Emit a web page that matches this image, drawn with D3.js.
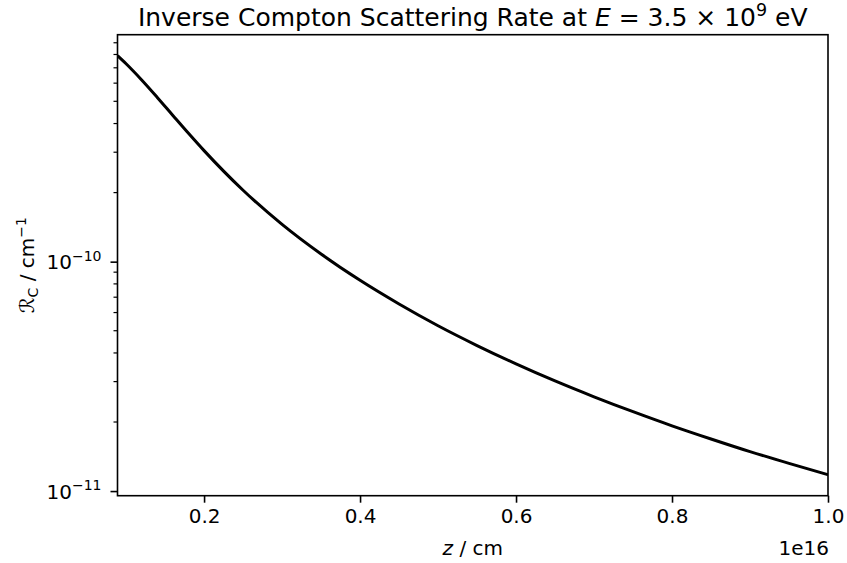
<!DOCTYPE html>
<html>
<head>
<meta charset="utf-8">
<script src="https://cdn.jsdelivr.net/npm/d3@7/dist/d3.min.js"></script>
<style>
  body { margin: 0; background: #fff; }
  svg { font-family: "DejaVu Sans", sans-serif; }
</style>
</head>
<body>
<svg id="chart" width="847" height="563"></svg>
<script>
// distance z in units of 1e16 cm
var zValues = [0.089, 0.1, 0.12, 0.14, 0.16, 0.18, 0.2, 0.25, 0.3, 0.35, 0.4, 0.45, 0.5,
               0.55, 0.6, 0.65, 0.7, 0.75, 0.8, 0.85, 0.9, 0.95, 1.0]
// inverse Compton rate, cm^-1
var rateValues = [7.907e-10, 7.286e-10, 6.194e-10, 5.200e-10, 4.340e-10, 3.627e-10, 3.048e-10,
                  2.048e-10, 1.454e-10, 1.080e-10, 8.289e-11, 6.537e-11, 5.255e-11, 4.309e-11,
                  3.585e-11, 3.020e-11, 2.576e-11, 2.218e-11, 1.925e-11, 1.687e-11, 1.486e-11,
                  1.320e-11, 1.178e-11]
var xTicks = [0.2, 0.4, 0.6, 0.8, 1.0]
var yMajorTicks = [1e-11, 1e-10]
var yMajorExp = [-11, -10]

var margin = {left: 117.5, right: 19, top: 34.7, bottom: 67.3}
var width = 847, height = 563

var svg = d3.select("#chart")

var x = d3.scaleLinear()
  .domain([zValues[0], zValues[zValues.length - 1]])
  .range([margin.left, width - margin.right])

// matplotlib style 5% margins in log space
var lmin = Math.log10(d3.min(rateValues)), lmax = Math.log10(d3.max(rateValues))
var pad = (lmax - lmin) * 0.05
var y = d3.scaleLog()
  .domain([Math.pow(10, lmin - pad), Math.pow(10, lmax + pad)])
  .range([height - margin.bottom, margin.top])

// minor ticks 2..9 x 10^n
var yMinor = []
for (var e = -12; e <= -9; e++) {
  for (var m = 2; m <= 9; m++) {
    var v = m * Math.pow(10, e)
    if (v >= y.domain()[0] && v <= y.domain()[1]) yMinor.push(v)
  }
}

var line = d3.line()
  .x(function(d, i) { return x(zValues[i]) })
  .y(function(d) { return y(d) })
  .curve(d3.curveMonotoneX)

svg.append("defs").append("clipPath").attr("id", "clip")
  .append("rect")
  .attr("x", margin.left).attr("y", margin.top)
  .attr("width", width - margin.left - margin.right)
  .attr("height", height - margin.top - margin.bottom)

svg.append("path")
  .datum(rateValues)
  .attr("clip-path", "url(#clip)")
  .attr("d", line)
  .attr("fill", "none")
  .attr("stroke", "#000")
  .attr("stroke-width", 3)
  .attr("stroke-linejoin", "round")

// x axis
var xAxis = d3.axisBottom(x)
  .tickValues(xTicks)
  .tickFormat(d3.format(".1f"))
  .tickSize(7)
  .tickPadding(6)
var gx = svg.append("g")
  .attr("transform", "translate(0," + (height - margin.bottom) + ")")
  .call(xAxis)
gx.select(".domain").remove()
gx.selectAll("text").attr("font-size", 20).attr("fill", "#000")
  .attr("font-family", "DejaVu Sans")
gx.selectAll("line").attr("stroke", "#000").attr("stroke-width", 1.6)

// y axis major
var yAxis = d3.axisLeft(y)
  .tickValues(yMajorTicks)
  .tickFormat("")
  .tickSize(7)
var gy = svg.append("g")
  .attr("transform", "translate(" + margin.left + ",0)")
  .call(yAxis)
gy.select(".domain").remove()
gy.selectAll("line").attr("stroke", "#000").attr("stroke-width", 1.6)

// y minor ticks
svg.append("g").selectAll("line")
  .data(yMinor)
  .enter().append("line")
  .attr("x1", margin.left - 4).attr("x2", margin.left)
  .attr("y1", function(d) { return y(d) }).attr("y2", function(d) { return y(d) })
  .attr("stroke", "#000").attr("stroke-width", 1.2)

// y tick labels 10^n
yMajorTicks.forEach(function(v, i) {
  var t = svg.append("text")
    .attr("x", margin.left - 16)
    .attr("y", y(v) + 7.5)
    .attr("text-anchor", "end")
    .attr("font-size", 20)
  t.append("tspan").text("10")
  t.append("tspan").attr("dy", -8.5).attr("font-size", 14).text("\u2212" + Math.abs(yMajorExp[i]))
})

// frame
svg.append("rect")
  .attr("x", margin.left).attr("y", margin.top)
  .attr("width", width - margin.left - margin.right)
  .attr("height", height - margin.top - margin.bottom)
  .attr("fill", "none").attr("stroke", "#000").attr("stroke-width", 1.6)

// offset text
svg.append("text")
  .attr("x", width - margin.right + 1)
  .attr("y", 555)
  .attr("text-anchor", "end")
  .attr("font-size", 20)
  .text("1e16")

// x label
var xl = svg.append("text")
  .attr("x", (margin.left + width - margin.right) / 2)
  .attr("y", 555)
  .attr("text-anchor", "middle")
  .attr("font-size", 20)
xl.append("tspan").attr("font-style", "italic").text("z")
xl.append("tspan").text(" / cm")

// y label
var yl = svg.append("text")
  .attr("transform", "translate(34," + ((margin.top + height - margin.bottom) / 2) + ") rotate(-90)")
  .attr("text-anchor", "middle")
  .attr("font-size", 20)
yl.append("tspan").attr("font-style", "italic").text("\u211B")
yl.append("tspan").attr("dy", 4).attr("font-size", 14).text("C")
yl.append("tspan").attr("dy", -4).text(" / cm")
yl.append("tspan").attr("dy", -8.5).attr("font-size", 14).text("\u22121")

// title
var title = svg.append("text")
  .attr("x", (margin.left + width - margin.right) / 2)
  .attr("y", 26)
  .attr("text-anchor", "middle")
  .attr("font-size", 25)
title.append("tspan").text("Inverse Compton Scattering Rate at ")
title.append("tspan").attr("font-style", "italic").text("E")
title.append("tspan").text(" = 3.5 \u00D7 10")
title.append("tspan").attr("dy", -10).attr("font-size", 17.5).text("9")
title.append("tspan").attr("dy", 10).text(" eV")
</script>
</body>
</html>
